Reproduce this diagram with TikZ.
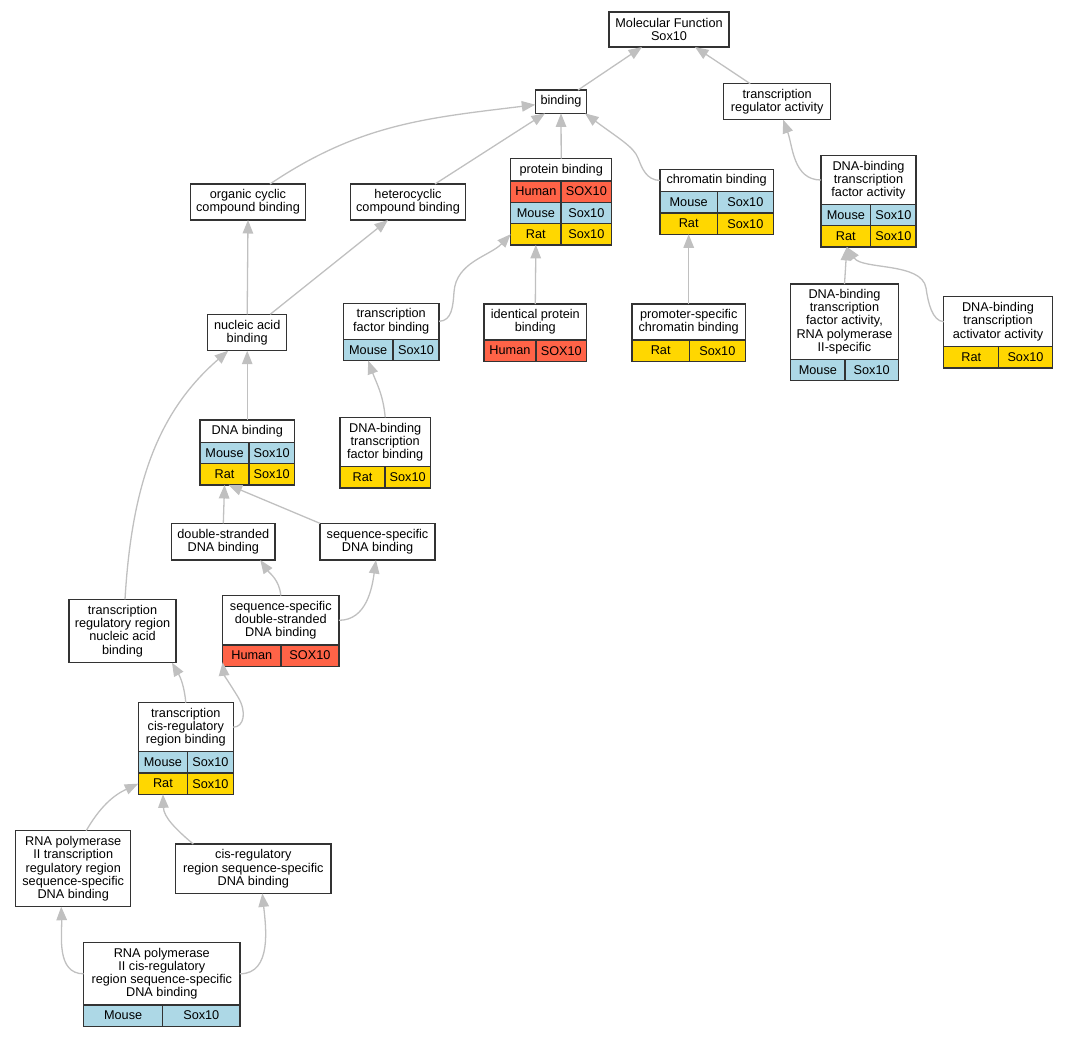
\documentclass[tikz,border=0pt]{standalone}
\usepackage{fontspec}
\setmainfont{Liberation Sans}
\usetikzlibrary{arrows.meta}
\definecolor{human}{HTML}{FF6347}
\definecolor{mouse}{HTML}{ADD8E6}
\definecolor{rat}{HTML}{FFD700}
\definecolor{edgegray}{HTML}{C0C0C0}
\definecolor{boxline}{HTML}{333333}
\tikzstyle{term}=[draw=boxline, line width=1.3pt, fill=white, inner sep=0pt, outer sep=0pt, align=center, font=\fontsize{12.7}{13.2}\selectfont]
\tikzstyle{cell}=[draw=boxline, line width=1.3pt, inner sep=0pt, outer sep=0pt, minimum height=21.3pt, anchor=north west, font=\fontsize{12.7}{13.2}\selectfont]
\tikzstyle{isa}=[draw=edgegray, line width=1.3pt, ->]
\tikzset{>={Triangle[length=13.5pt, width=10.5pt]}}

\begin{document}
\begin{tikzpicture}[x=1pt, y=-1pt]
\useasboundingbox (0,0) rectangle (1067,1037);
\node[term, minimum width=120pt, minimum height=35pt] (mf) at (669,29.5) {Molecular Function\\Sox10};
\node[term, minimum width=51.4pt, minimum height=23.3pt] (bind) at (561,101.7) {binding};
\node[term, minimum width=107pt, minimum height=36pt] (tra) at (777.2,101.7) {transcription\\regulator activity};
% protein binding
\node[term, minimum width=101pt, minimum height=22.3pt] (pb) at (561.2,169.8) {protein binding};
\node[cell, fill=human, minimum width=50.3pt] (pbH) at (pb.south west) {Human};
\node[cell, fill=human, minimum width=50.7pt] (pbHs) at (pbH.north east) {SOX10};
\node[cell, fill=mouse, minimum width=50.3pt] (pbM) at (pbH.south west) {Mouse};
\node[cell, fill=mouse, minimum width=50.7pt] (pbMs) at (pbM.north east) {Sox10};
\node[cell, fill=rat, minimum width=50.3pt] (pbR) at (pbM.south west) {Rat};
\node[cell, fill=rat, minimum width=50.7pt] (pbRs) at (pbR.north east) {Sox10};
% chromatin binding
\node[term, minimum width=113.3pt, minimum height=22.4pt] (chrom) at (716.7,180.5) {chromatin binding};
\node[cell, fill=mouse, minimum width=57.3pt] (chM) at (chrom.south west) {Mouse};
\node[cell, fill=mouse, minimum width=56pt] (chMs) at (chM.north east) {Sox10};
\node[cell, fill=rat, minimum width=57.3pt] (chR) at (chM.south west) {Rat};
\node[cell, fill=rat, minimum width=56pt] (chRs) at (chR.north east) {Sox10};
% DNA-binding transcription factor activity
\node[term, minimum width=95pt, minimum height=48.6pt] (dtfa) at (868.5,180) {DNA-binding\\transcription\\factor activity};
\node[cell, fill=mouse, minimum width=49.7pt] (dfM) at (dtfa.south west) {Mouse};
\node[cell, fill=mouse, minimum width=45.3pt] (dfMs) at (dfM.north east) {Sox10};
\node[cell, fill=rat, minimum width=49.7pt] (dfR) at (dfM.south west) {Rat};
\node[cell, fill=rat, minimum width=45.3pt] (dfRs) at (dfR.north east) {Sox10};
\node[term, minimum width=114.6pt, minimum height=36pt] (orgcyc) at (248,202) {organic cyclic\\compound binding};
\node[term, minimum width=114.6pt, minimum height=36pt] (hetcyc) at (408,202) {heterocyclic\\compound binding};
\node[term, minimum width=79pt, minimum height=36.4pt] (nab) at (247.2,332.5) {nucleic acid\\binding};
\node[term, minimum width=95.7pt, minimum height=36pt] (tfb) at (391.2,321.3) {transcription\\factor binding};
\node[cell, fill=mouse, minimum width=49.7pt] (tfM) at (tfb.south west) {Mouse};
\node[cell, fill=mouse, minimum width=46pt] (tfMs) at (tfM.north east) {Sox10};
\node[term, minimum width=102.7pt, minimum height=36pt] (idp) at (535.3,322) {identical protein\\binding};
\node[cell, fill=human, minimum width=52pt] (idH) at (idp.south west) {Human};
\node[cell, fill=human, minimum width=50.7pt] (idHs) at (idH.north east) {SOX10};
\node[term, minimum width=113.3pt, minimum height=36pt] (promo) at (688.7,322) {promoter-specific\\chromatin binding};
\node[cell, fill=rat, minimum width=57.3pt] (prR) at (promo.south west) {Rat};
\node[cell, fill=rat, minimum width=56pt] (prRs) at (prR.north east) {Sox10};
\node[term, minimum width=107.6pt, minimum height=75.3pt] (rnap2) at (844.5,321.7) {DNA-binding\\transcription\\factor activity,\\RNA polymerase\\II-specific};
\node[cell, fill=mouse, minimum width=54.3pt] (r2M) at (rnap2.south west) {Mouse};
\node[cell, fill=mouse, minimum width=53.3pt] (r2Ms) at (r2M.north east) {Sox10};
\node[term, minimum width=108.6pt, minimum height=50pt] (activ) at (998,321.7) {DNA-binding\\transcription\\activator activity};
\node[cell, fill=rat, minimum width=55pt] (acR) at (activ.south west) {Rat};
\node[cell, fill=rat, minimum width=53.6pt] (acRs) at (acR.north east) {Sox10};
% DNA binding
\node[term, minimum width=94.3pt, minimum height=22.3pt] (dnab) at (247.2,431.2) {DNA binding};
\node[cell, fill=mouse, minimum width=49pt] (dbM) at (dnab.south west) {Mouse};
\node[cell, fill=mouse, minimum width=45.3pt] (dbMs) at (dbM.north east) {Sox10};
\node[cell, fill=rat, minimum width=49pt] (dbR) at (dbM.south west) {Rat};
\node[cell, fill=rat, minimum width=45.3pt] (dbRs) at (dbR.north east) {Sox10};
\node[term, minimum width=90.3pt, minimum height=49.3pt] (dtfb) at (385.2,442) {DNA-binding\\transcription\\factor binding};
\node[cell, fill=rat, minimum width=45pt] (tbR) at (dtfb.south west) {Rat};
\node[cell, fill=rat, minimum width=45.3pt] (tbRs) at (tbR.north east) {Sox10};
\node[term, minimum width=103.3pt, minimum height=36.7pt] (dsdna) at (223.3,541.7) {double-stranded\\DNA binding};
\node[term, minimum width=115pt, minimum height=36.7pt] (ssdna) at (377.5,541.7) {sequence-specific\\DNA binding};
\node[term, minimum width=107pt, minimum height=63.3pt] (trr) at (122.5,631) {transcription\\regulatory region\\nucleic acid\\binding};
\node[term, minimum width=116.3pt, minimum height=49.3pt] (ssds) at (280.8,620.3) {sequence-specific\\double-stranded\\DNA binding};
\node[cell, fill=human, minimum width=58.3pt] (ssH) at (ssds.south west) {Human};
\node[cell, fill=human, minimum width=58pt] (ssHs) at (ssH.north east) {SOX10};
% cis-regulatory part
\node[term, minimum width=95pt, minimum height=49pt] (tcis) at (185.8,727.2) {transcription\\cis-regulatory\\region binding};
\node[cell, fill=mouse, minimum width=49.3pt] (tcM) at (tcis.south west) {Mouse};
\node[cell, fill=mouse, minimum width=45.7pt] (tcMs) at (tcM.north east) {Sox10};
\node[cell, fill=rat, minimum width=49.3pt] (tcR) at (tcM.south west) {Rat};
\node[cell, fill=rat, minimum width=45.7pt] (tcRs) at (tcR.north east) {Sox10};
\node[term, minimum width=115pt, minimum height=76pt] (rnatrr) at (73.2,868.7) {RNA polymerase\\II transcription\\regulatory region\\sequence-specific\\DNA binding};
\node[term, minimum width=155.3pt, minimum height=49.3pt] (cisreg) at (253.3,868.7) {cis-regulatory\\region sequence-specific\\DNA binding};
\node[term, minimum width=156.3pt, minimum height=62.3pt] (rnacis) at (161.8,973.8) {RNA polymerase\\II cis-regulatory\\region sequence-specific\\DNA binding};
\node[cell, fill=mouse, minimum width=79pt] (rcM) at (rnacis.south west) {Mouse};
\node[cell, fill=mouse, minimum width=77.3pt] (rcMs) at (rcM.north east) {Sox10};

\draw[isa] ([xshift=17pt]bind.north) -- ([xshift=-27pt]mf.south);
\draw[isa] ([xshift=-27pt]tra.north) -- ([xshift=26pt]mf.south);
\draw[isa] (pb.north) -- (bind.south);
\draw[isa] (chrom.west) .. controls (646,180) and (642,168) .. (638,158) .. controls (634,147) and (618,138) .. ([xshift=24pt]bind.south);
\draw[isa] ([xshift=22pt]orgcyc.north) to[out=34, in=187] ([yshift=-3pt]bind.west);
\draw[isa] ([xshift=27pt]hetcyc.north) -- ([xshift=-16pt]bind.south);
\draw[isa] (dtfa.west) to[out=180, in=-70] ([xshift=6pt]tra.south);
\draw[isa] (nab.north) -- (orgcyc.south);
\draw[isa] ([xshift=23pt]nab.north) -- ([xshift=-20pt]hetcyc.south);
\draw[isa] (tfb.east) .. controls (452,321) and (453,306) .. (454,292) .. controls (456,262) and (490,256) .. (pbR.west);
\draw[isa] (idp.north) -- (pbR.south);
\draw[isa] (promo.north) -- (chR.south);
\draw[isa] (rnap2.north) -- ([xshift=1pt]dfR.south);
\draw[isa] (activ.west) .. controls (932,321) and (928,302) .. (926,288) .. controls (922,262) and (862,270) .. ([xshift=1pt]dfR.south);
\draw[isa] (dnab.north) -- (nab.south);
\draw[isa] (dtfb.north) to[out=95, in=-70] (tfM.south);
\draw[isa] (dsdna.north) -- (dbR.south);
\draw[isa] (ssdna.north west) -- ([xshift=4pt]dbR.south);
\draw[isa] ([xshift=2.5pt]trr.north) .. controls (132,480) and (160,410) .. ([xshift=-19pt]nab.south);
\draw[isa] (ssds.north) to[out=95, in=-55] ([xshift=37pt]dsdna.south);
\draw[isa] (ssds.east) to[out=0, in=-98] ([xshift=-1.5pt]ssdna.south);
\draw[isa] (tcis.north) to[out=95, in=-60] ([xshift=49.5pt]trr.south);
\draw[isa] (tcis.east) .. controls (244,727) and (247,712) .. (238,697) .. controls (230,684) and (224,675) .. ([yshift=4pt]ssH.south west);
\draw[isa] ([xshift=13pt]rnatrr.north) to[out=60, in=-155] (tcR.west);
\draw[isa] ([xshift=-60pt]cisreg.north) to[out=140, in=-88] (tcR.south);
\draw[isa] (rnacis.west) to[out=180, in=-88] ([xshift=-12pt]rnatrr.south);
\draw[isa] (rnacis.east) to[out=0, in=-84] ([xshift=9pt]cisreg.south);
\end{tikzpicture}
\end{document}
